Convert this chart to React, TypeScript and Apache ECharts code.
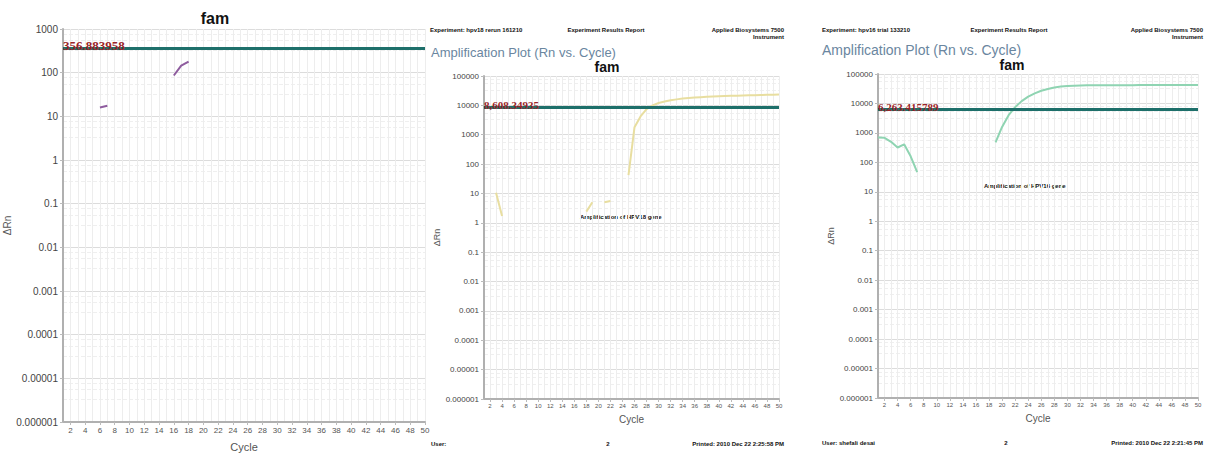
import React, { useEffect, useRef } from "react";
import * as echarts from "echarts";

const cycles = ["1","2","3","4","5","6","7","8","9","10","11","12","13","14","15","16","17","18","19","20","21","22","23","24","25","26","27","28","29","30","31","32","33","34","35","36","37","38","39","40","41","42","43","44","45","46","47","48","49","50"];

const yLabelsA = ["0.000001","0.00001","0.0001","0.001","0.01","0.1","1","10","100","1000"];
const yLabelsBC = ["0.000001","0.00001","0.0001","0.001","0.01","0.1","1","10","100","1000","10000","100000"];

// [cycle, ΔRn]
const famLeft: [number, number][] = [
  [6, 16], [7, 17.5],
  [16, 86], [17, 145], [18, 180],
];
const famMiddle: [number, number][] = [
  [3, 10.5], [4, 1.7],
  [18, 2.4], [19, 5],
  [21, 5], [22, 5.5],
  [25, 42], [26, 1800], [27, 4200], [28, 7500], [29, 10000], [30, 12000], [31, 13500], [32, 15000],
  [33, 16000], [34, 17000], [35, 17800], [36, 18500], [37, 19000], [38, 19500], [39, 20000], [40, 20500],
  [41, 20800], [42, 21100], [43, 21400], [44, 21700], [45, 22000], [46, 22300], [47, 22600], [48, 22900],
  [49, 23100], [50, 23300],
];
const famRight: [number, number][] = [
  [1, 700], [2, 680], [3, 500], [4, 320], [5, 410], [6, 160], [7, 47],
  [19, 480], [20, 1600], [21, 4000], [22, 7500], [23, 12000], [24, 17000], [25, 22000], [26, 27000],
  [27, 31000], [28, 35000], [29, 37500], [30, 39000], [31, 40000], [32, 40800], [33, 41200], [34, 41500],
  [35, 41600], [36, 41700], [37, 41800], [38, 41800], [39, 41900], [40, 41900], [41, 42000], [42, 42000],
  [43, 42000], [44, 42000], [45, 42000], [46, 42000], [47, 42000], [48, 42000], [49, 42000], [50, 42000],
];

const thresholds = [356.883958, 8608.34935, 6263.415789];
const thresholdLabels = ["356.883958", "8,608.34935", "6,263.415789"];

const toSeriesData = (pts: [number, number][]) => {
  const arr: (number | null)[] = cycles.map(() => null);
  pts.forEach(([c, v]) => { arr[c - 1] = v; });
  return arr;
};

const grids = [
  { left: 63, top: 29, width: 362, height: 407 },
  { left: 484, top: 76, width: 295, height: 323 },
  { left: 878, top: 74, width: 320, height: 324 },
];

export default function App() {
  const ref = useRef<HTMLDivElement>(null);
  useEffect(() => {
    if (!ref.current) return;
    const chart = echarts.init(ref.current, undefined, { renderer: "svg" });
    const big = [true, false, false];
    const yMax = [1000, 100000, 100000];
    const yLabels = [yLabelsA, yLabelsBC, yLabelsBC];
    const colors = ["#8e5c9e", "#e8dea0", "#8fd4b2"];
    const datas = [famLeft, famMiddle, famRight];
    const xNameGap = [19, 15, 15];
    const yNameGap = [44, 39, 43];

    const xAxis = grids.map((_, i) => ({
      type: "category",
      gridIndex: i,
      data: cycles,
      boundaryGap: false,
      name: "Cycle",
      nameLocation: "middle",
      nameGap: xNameGap[i],
      nameTextStyle: { color: "#555", fontSize: big[i] ? 11 : 10, fontFamily: "Liberation Sans" },
      axisLine: { lineStyle: { color: "#b0b0b0", width: 2 } },
      axisTick: { show: true, interval: (idx: number) => idx % 2 === 1, length: 3, lineStyle: { color: "#bbb" } },
      axisLabel: {
        interval: (idx: number) => idx % 2 === 1,
        fontSize: big[i] ? 8 : 6,
        color: "#555",
        margin: 4,
        fontFamily: "Liberation Sans",
      },
      splitLine: { show: true, interval: 0, lineStyle: { color: "#ededed", width: 1 } },
    }));

    const yAxis = grids.map((_, i) => ({
      type: "log",
      logBase: 10,
      gridIndex: i,
      min: 0.000001,
      max: yMax[i],
      interval: 1,
      splitNumber: yLabels[i].length - 1,
      name: "ΔRn",
      nameLocation: "middle",
      nameRotate: 90,
      nameGap: yNameGap[i],
      nameTextStyle: { color: "#555", fontSize: big[i] ? 10 : 9, fontFamily: "Liberation Sans" },
      axisLine: { show: true, lineStyle: { color: "#b0b0b0", width: 2 } },
      axisTick: { show: true, length: 3, lineStyle: { color: "#bbb" } },
      axisLabel: {
        fontSize: big[i] ? 10 : 8,
        color: "#444",
        margin: 5,
        fontFamily: "Liberation Sans",
        formatter: (v: number) => {
          const e = Math.round(Math.log10(v)) + 6;
          return yLabels[i][e] ?? "";
        },
      },
      splitLine: { show: true, lineStyle: { color: "#dcdcdc", width: 1 } },
      minorTick: { show: false, splitNumber: 4 },
      minorSplitLine: { show: true, lineStyle: { color: "#efefef", type: "dashed", width: 1 } },
    }));

    const series = grids.map((_, i) => ({
      type: "line",
      xAxisIndex: i,
      yAxisIndex: i,
      data: toSeriesData(datas[i]),
      symbol: "none",
      connectNulls: false,
      smooth: false,
      lineStyle: { color: colors[i], width: 2 },
      markLine: {
        silent: true,
        symbol: "none",
        lineStyle: { color: "#1d6f6a", width: 3, type: "solid" },
        label: {
          show: true,
          position: "insideStartTop",
          formatter: thresholdLabels[i],
          color: "#9a2528",
          fontFamily: "Liberation Serif",
          fontWeight: "bold",
          fontSize: big[i] ? 13 : 11,
          distance: [0, -3],
        },
        data: [{ yAxis: thresholds[i] }],
      },
    }));

    const hdr = (x: number, y: number, text: string, align: string = "left") => ({
      type: "text", x, y,
      style: { text, fontSize: 6, fontWeight: "bold", fill: "#111", fontFamily: "Liberation Sans", textAlign: align, textVerticalAlign: "middle" },
    });

    const graphic = [
      { type: "text", x: 215, y: 18, style: { text: "fam", fontSize: 16, fontWeight: "bold", fill: "#111", fontFamily: "Liberation Sans", textAlign: "center", textVerticalAlign: "middle" } },
      { type: "text", x: 607, y: 67, style: { text: "fam", fontSize: 14, fontWeight: "bold", fill: "#111", fontFamily: "Liberation Sans", textAlign: "center", textVerticalAlign: "middle" } },
      { type: "text", x: 1012, y: 65, style: { text: "fam", fontSize: 14, fontWeight: "bold", fill: "#111", fontFamily: "Liberation Sans", textAlign: "center", textVerticalAlign: "middle" } },
      { type: "text", x: 431, y: 52, style: { text: "Amplification Plot (Rn vs. Cycle)", fontSize: 13, fill: "#6a86a0", fontFamily: "Liberation Sans", textVerticalAlign: "middle" } },
      { type: "text", x: 822, y: 50, style: { text: "Amplification Plot (Rn vs. Cycle)", fontSize: 14, fill: "#6a86a0", fontFamily: "Liberation Sans", textVerticalAlign: "middle" } },
      hdr(430, 30, "Experiment: hpv18 rerun 161210"),
      hdr(606, 30, "Experiment Results Report", "center"),
      hdr(784, 30, "Applied Biosystems 7500", "right"),
      hdr(784, 37, "Instrument", "right"),
      hdr(822, 30, "Experiment: hpv16 trial 133210"),
      hdr(1009, 30, "Experiment Results Report", "center"),
      hdr(1203, 30, "Applied Biosystems 7500", "right"),
      hdr(1203, 37, "Instrument", "right"),
      hdr(431, 444, "User:"),
      hdr(608, 444, "2", "center"),
      hdr(784, 444, "Printed: 2010 Dec 22 2:25:58 PM", "right"),
      hdr(822, 443, "User: shefali desai"),
      hdr(1006, 443, "2", "center"),
      hdr(1203, 443, "Printed: 2010 Dec 22 2:21:45 PM", "right"),
      hdr(580, 217, "Amplification of HPV18 gene"),
      hdr(984, 186, "Amplification of HPV16 gene"),
    ];

    chart.setOption({
      animation: false,
      backgroundColor: "#ffffff",
      grid: grids.map((g) => ({ ...g, containLabel: false })),
      xAxis,
      yAxis,
      series,
      graphic,
    });
    return () => chart.dispose();
  }, []);
  return <div ref={ref} style={{ position: "fixed", left: 0, top: 0, width: 1208, height: 457 }} />;
}
